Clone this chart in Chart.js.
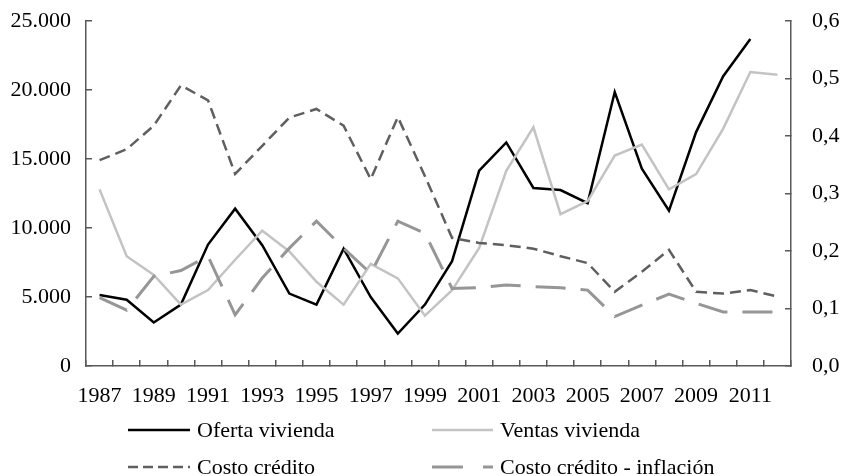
<!DOCTYPE html>
<html>
<head>
<meta charset="utf-8">
<script src="https://cdn.jsdelivr.net/npm/chart.js@4"></script>
<style>
  body { margin: 0; background: #fff; }
  #wrap { position: relative; width: 842px; height: 476px; overflow: hidden; }
  .legend-item { position: absolute; font-family: "Liberation Serif", serif; font-size: 22px; color: #000;
    display: flex; align-items: center; white-space: nowrap; height: 24px; }
  .legend-item svg { margin-right: 7px; }
</style>
</head>
<body>
<div id="wrap">
  <canvas id="line-chart" width="842" height="476"></canvas>
  <div class="legend-item" style="left:128px; top:418px;">
    <svg width="62" height="6"><line x1="0" y1="3" x2="62" y2="3" stroke="#000" stroke-width="2.5"/></svg>Oferta vivienda
  </div>
  <div class="legend-item" style="left:432px; top:418px;">
    <svg width="61" height="6"><line x1="0" y1="3" x2="61" y2="3" stroke="#c3c3c3" stroke-width="2.5"/></svg>Ventas vivienda
  </div>
  <div class="legend-item" style="left:128px; top:455px;">
    <svg width="62" height="6"><line x1="0" y1="3" x2="62" y2="3" stroke="#5f5f5f" stroke-width="2.5" stroke-dasharray="10 5"/></svg>Costo crédito
  </div>
  <div class="legend-item" style="left:432px; top:455px;">
    <svg width="61" height="6"><line x1="0" y1="3" x2="61" y2="3" stroke="#969696" stroke-width="3" stroke-dasharray="31 20"/></svg>Costo crédito - inflación
  </div>
</div>
<script>
document.addEventListener("DOMContentLoaded", function() {

  // años (eje x)
  const years = ['1987','1988','1989','1990','1991','1992','1993','1994','1995','1996','1997','1998','1999',
                 '2000','2001','2002','2003','2004','2005','2006','2007','2008','2009','2010','2011','2012'];

  // eje izquierdo (unidades)
  const ofertaVivienda = [5150, 4800, 3150, 4450, 8800, 11400, 8750, 5250, 4450, 8500, 5000, 2350, 4450,
                          7600, 14150, 16200, 12900, 12750, 11800, 19850, 14300, 11250, 16950, 21000, 23700, null];
  const ventasVivienda = [12800, 7950, 6600, 4450, 5500, 7700, 9800, 8300, 6100, 4450, 7400, 6350, 3650,
                          5500, 8550, 14150, 17300, 11000, 11950, 15250, 16050, 12800, 13900, 17200, 21300, 21100];

  // eje derecho (tasa)
  const costoCredito = [0.358, 0.377, 0.418, 0.488, 0.462, 0.334, 0.383, 0.432, 0.447, 0.418, 0.325, 0.433, 0.330,
                        0.223, 0.214, 0.210, 0.204, 0.191, 0.179, 0.129, 0.164, 0.202, 0.129, 0.126, 0.132, 0.121];
  const costoCreditoInflacion = [0.119, 0.097, 0.156, 0.166, 0.191, 0.089, 0.153, 0.205, 0.252, 0.205, 0.161, 0.252, 0.231,
                                 0.135, 0.136, 0.141, 0.138, 0.136, 0.132, 0.086, 0.106, 0.125, 0.109, 0.094, 0.094, 0.094];

  const font = { family: '"Liberation Serif", serif', size: 22 };
  const axisColor = '#595959';

  // ancho fijo de los ejes verticales, sin relleno extra arriba/abajo
  function fixY(w) {
    return function(scale) {
      scale.width = w;
      scale.paddingTop = 0;
      scale.paddingBottom = 0;
    };
  }

  new Chart(document.getElementById('line-chart'), {
    type: 'line',
    data: {
      labels: years,
      datasets: [
        {
          label: 'Costo crédito - inflación',
          data: costoCreditoInflacion,
          yAxisID: 'y1',
          borderColor: '#969696',
          borderWidth: 3,
          borderDash: [30, 15]
        },
        {
          label: 'Costo crédito',
          data: costoCredito,
          yAxisID: 'y1',
          borderColor: '#5f5f5f',
          borderWidth: 2.5,
          borderDash: [11, 6]
        },
        {
          label: 'Ventas vivienda',
          data: ventasVivienda,
          yAxisID: 'y',
          borderColor: '#c3c3c3',
          borderWidth: 2.5
        },
        {
          label: 'Oferta vivienda',
          data: ofertaVivienda,
          yAxisID: 'y',
          borderColor: '#000',
          borderWidth: 2.5
        }
      ]
    },
    options: {
      responsive: false,
      animation: false,
      layout: { padding: { top: 21, bottom: 0, left: 0, right: 0 } },
      elements: { point: { radius: 0 }, line: { tension: 0, borderJoinStyle: 'miter' } },
      plugins: { legend: { display: false }, tooltip: { enabled: false } },
      scales: {
        x: {
          offset: true,
          grid: { offset: true, drawOnChartArea: false, tickLength: -6, color: axisColor, lineWidth: 1.5 },
          border: { color: axisColor, width: 1.5 },
          ticks: {
            autoSkip: false, maxRotation: 0, padding: 23, color: '#000', font: font,
            callback: function(v, i) { return i % 2 === 0 ? this.getLabelForValue(v) : ''; }
          },
          afterFit: function(scale) { scale.height = 110; }
        },
        y: {
          position: 'left',
          min: 0, max: 25000,
          grid: { drawOnChartArea: false, tickLength: -6, color: axisColor, lineWidth: 1.5 },
          border: { color: axisColor, width: 1.5 },
          ticks: {
            stepSize: 5000, padding: 21, color: '#000', font: font,
            callback: v => String(v).replace(/\B(?=(\d{3})+(?!\d))/g, '.')
          },
          afterFit: fixY(86)
        },
        y1: {
          position: 'right',
          min: 0, max: 0.6,
          grid: { drawOnChartArea: false, tickLength: -6, color: axisColor, lineWidth: 1.5 },
          border: { color: axisColor, width: 1.5 },
          ticks: {
            stepSize: 0.1, padding: 27, color: '#000', font: font,
            callback: v => v.toFixed(1).replace('.', ',')
          },
          afterFit: fixY(51)
        }
      }
    }
  });

});
</script>
</body>
</html>
